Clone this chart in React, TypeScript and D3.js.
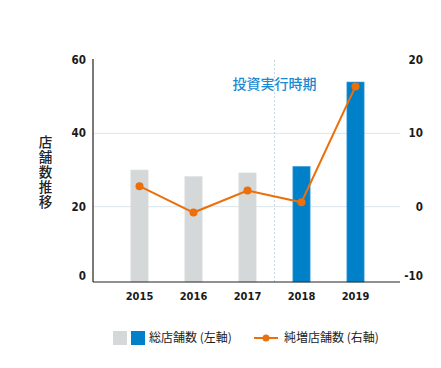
import React from 'react';
import * as d3 from 'd3';

const years = ['2015', '2016', '2017', '2018', '2019'];
const totalStores = [30, 28.2, 29.2, 31, 54];
const netIncrease = [2.8, -0.8, 2.2, 0.6, 16.4];
const investYears = ['2018', '2019'];
const leftTicks = [0, 20, 40, 60];
const rightTicks = [-10, 0, 10, 20];

const W = 441;
const H = 368;
const plotLeft = 93;
const plotRight = 400;
const numFont = '"DejaVu Sans", sans-serif';
const jpFont = '"Noto Sans CJK JP", sans-serif';
const numStyle = { fontStretch: 'condensed' } as React.CSSProperties;

const App: React.FC = () => {
  const x = d3.scaleBand<string>().domain(years).range([112.5, 382.5]).paddingInner(0.68).paddingOuter(0.34);
  const yL = d3.scaleLinear().domain([0, 60]).range([280, 60]);
  const yR = d3.scaleLinear().domain([-10, 20]).range([280, 60]);
  const cx = (y: string) => (x(y) ?? 0) + x.bandwidth() / 2;

  const line = d3.line<number>()
    .x((_, i) => cx(years[i]))
    .y(d => yR(d));

  const divider = (cx('2017') + cx('2018')) / 2;

  return (
    <svg width={W} height={H} style={{ position: 'absolute', left: 0, top: 0 }}>
      {/* grid */}
      {leftTicks.filter(t => t > 0 && t < 60).map(t => (
        <line key={t} x1={plotLeft} x2={plotRight} y1={yL(t)} y2={yL(t)} stroke="#dde4ee" strokeWidth={1} />
      ))}
      {/* divider for investment period */}
      <line x1={divider} x2={divider} y1={60} y2={282} stroke="#c6d6ea" strokeDasharray="2,2" />
      <text x={divider} y={89} textAnchor="middle" fontFamily={jpFont} fontSize={14} fontWeight={500} fill="#1a8ad0">
        投資実行時期
      </text>

      {/* bars */}
      {years.map((yr, i) => {
        const blue = investYears.includes(yr);
        return (
          <rect key={yr} x={x(yr)} y={yL(totalStores[i])} width={x.bandwidth()} height={282 - yL(totalStores[i])}
            fill={blue ? '#0080c9' : '#d5d8d8'} stroke={blue ? '#4da6dc' : '#dcdfdf'} strokeWidth={0.6} />
        );
      })}

      {/* axes */}
      <line x1={plotLeft} x2={plotLeft} y1={59} y2={282} stroke="#222" strokeWidth={1.2} />
      <line x1={plotLeft} x2={plotRight} y1={282} y2={282} stroke="#222" strokeWidth={1.2} />

      {leftTicks.map(t => (
        <text key={t} x={86} y={yL(t) + (t === 0 ? -4 : 0)} dy="0.35em" textAnchor="end" fontFamily={numFont} fontSize={11.5} fontWeight={700} fill="#1a1a1a" style={numStyle}>
          {t}
        </text>
      ))}
      {rightTicks.map(t => (
        <text key={t} x={423} y={yR(t) + (t === -10 ? -4 : 0)} dy="0.35em" textAnchor="end" fontFamily={numFont} fontSize={11.5} fontWeight={700} fill="#1a1a1a" style={numStyle}>
          {t}
        </text>
      ))}
      {years.map(yr => (
        <text key={yr} x={cx(yr)} y={296} dy="0.35em" textAnchor="middle" fontFamily={numFont} fontSize={11} fontWeight={700} fill="#1a1a1a" style={numStyle}>
          {yr}
        </text>
      ))}

      {/* y title, vertical */}
      <text x={45.5} y={135} fontFamily={jpFont} fontSize={13.5} fontWeight={500} fill="#222"
        style={{ writingMode: 'vertical-rl', letterSpacing: '1.5px' } as React.CSSProperties}>
        店舗数推移
      </text>

      {/* line */}
      <path d={line(netIncrease) ?? ''} fill="none" stroke="#eb6f0a" strokeWidth={2} />
      {netIncrease.map((v, i) => (
        <circle key={i} cx={cx(years[i])} cy={yR(v)} r={4} fill="#eb6f0a" />
      ))}

      {/* legend */}
      <rect x={113} y={331} width={14} height={14} fill="#d5d8d8" />
      <rect x={131} y={331} width={14} height={14} fill="#0080c9" />
      <text x={149} y={338} dy="0.35em" fontFamily={jpFont} fontSize={12} fill="#222">総店舗数 (左軸)</text>
      <line x1={254} x2={278} y1={338} y2={338} stroke="#eb6f0a" strokeWidth={2} />
      <circle cx={266} cy={338} r={3.5} fill="#eb6f0a" />
      <text x={284} y={338} dy="0.35em" fontFamily={jpFont} fontSize={12} fill="#222">純増店舗数 (右軸)</text>
    </svg>
  );
};

export default App;
